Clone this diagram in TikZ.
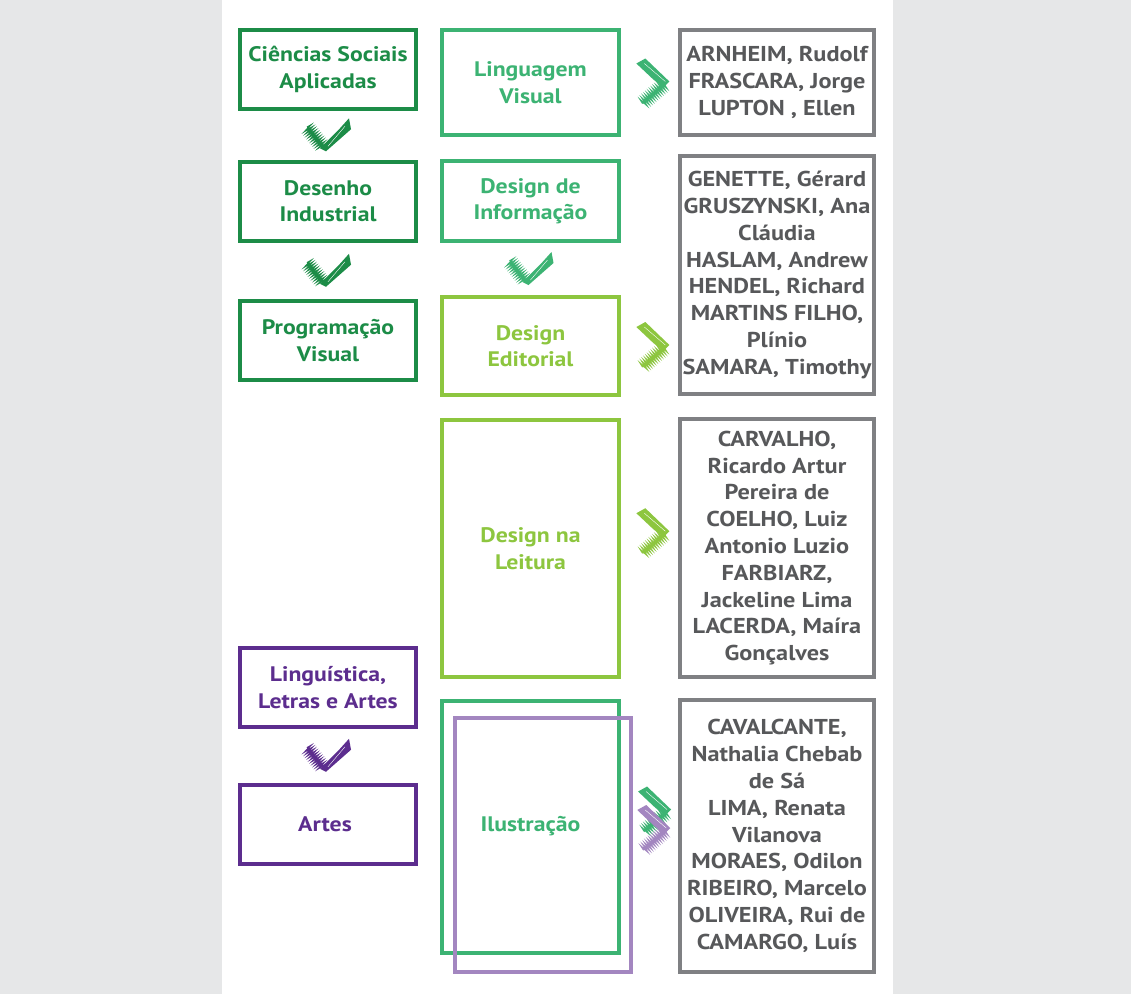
\documentclass[tikz,border=0pt]{standalone}
\usepackage{fontspec}
\setmainfont{PT Sans}[FakeStretch=1.13]
\usetikzlibrary{decorations.pathmorphing}

\definecolor{fundo}{HTML}{E6E7E8}
\definecolor{verdeesc}{HTML}{1C8C47}
\definecolor{verdemed}{HTML}{3CB373}
\definecolor{verdecla}{HTML}{8DC63F}
\definecolor{roxoesc}{HTML}{5C2D8E}
\definecolor{roxocla}{HTML}{A386C0}
\definecolor{cinzalinha}{HTML}{7F8083}
\definecolor{cinzatexto}{HTML}{57585A}

\tikzset{
  caixa/.style={draw=#1, text=#1, line width=4pt, inner sep=0pt, align=center,
    font=\bfseries\fontsize{21}{26.5}\selectfont},
  autores/.style={draw=cinzalinha, text=cinzatexto, line width=4pt, inner sep=0pt,
    align=center, minimum width=194, font=\bfseries\fontsize{21.5}{26.8}\selectfont},
  rabisco/.style={line width=1.3pt, decorate,
    decoration={zigzag, segment length=2.4pt, amplitude=4pt}},
  % seta para baixo (em forma de visto)
  pics/visto/.style={code={
    \fill[#1] (-8,13) -- (12,-7) -- (21,-17) -- (23,-6) -- (-2,16) -- cycle;
    \draw[white, line width=0.4pt] (0,11) -- (17,-9);
    \draw[#1, rabisco] (-21,-8) -- (-5,12);
  }},
  % seta para a direita
  pics/divisa/.style={code={
    \fill[#1] (-16,-19) -- (-7,-24) -- (17,-1) -- (11,5) -- (1,-3) -- cycle;
    \draw[white, line width=0.4pt] (-8,-19) -- (13,-1);
    \draw[#1, rabisco] (12,2) -- (-10,21);
  }}
}

\begin{document}
\begin{tikzpicture}[x=1pt,y=-1pt]
  % fundo
  \fill[fundo] (0,0) rectangle (1131,994);
  \fill[white] (222,0) rectangle (893,994);

  % Coluna 1
  \foreach \nome/\y/\cor/\texto in {
      csa/69.5/verdeesc/{Ciências Sociais\\Aplicadas},
      dind/201/verdeesc/{Desenho\\Industrial},
      pvis/340.5/verdeesc/{Programação\\Visual},
      lla/687.5/roxoesc/{Linguística,\\Letras e Artes},
      artes/824/roxoesc/{Artes}
    } {
    \node[caixa=\cor, minimum width=176, minimum height=79] (\nome) at (328,\y) {\texto};
  }

  % Coluna 2
  \node[caixa=verdemed, minimum width=177, minimum height=105] (lv) at (530.5,82.5) {Linguagem\\Visual};
  \node[caixa=verdemed, minimum width=177, minimum height=80] (dinf) at (530.5,201) {Design de\\Informação};
  \node[caixa=verdecla, minimum width=177, minimum height=98] (ded) at (530.5,346) {Design\\Editorial};
  \node[caixa=verdecla, minimum width=177, minimum height=257] (dl) at (530.5,548.5) {Design na\\Leitura};
  \node[caixa=verdemed, minimum width=177, minimum height=252] (ilv) at (530.5,826.5) {};
  \node[caixa=roxocla, minimum width=176, minimum height=254] (ilr) at (543,845) {};
  \node[text=verdemed, font=\bfseries\fontsize{21}{26.5}\selectfont] (ilt) at (ilv.center) {Ilustração};

  % Coluna 3
  \node[autores, minimum height=105] (r1) at (777,82.5)
    {ARNHEIM, Rudolf\\FRASCARA, Jorge\\LUPTON , Ellen};
  \node[autores, minimum height=238] (r2) at (777,275)
    {GENETTE, Gérard\\GRUSZYNSKI, Ana\\Cláudia\\HASLAM, Andrew\\HENDEL, Richard\\MARTINS FILHO,\\Plínio\\SAMARA, Timothy};
  \node[autores, minimum height=258] (r3) at (777,548)
    {CARVALHO,\\Ricardo Artur\\Pereira de\\COELHO, Luiz\\Antonio Luzio\\FARBIARZ,\\Jackeline Lima\\LACERDA, Maíra\\Gonçalves};
  \node[autores, minimum height=272] (r4) at (777,836)
    {CAVALCANTE,\\Nathalia Chebab\\de Sá\\LIMA, Renata\\Vilanova\\MORAES, Odilon\\RIBEIRO, Marcelo\\OLIVEIRA, Rui de\\CAMARGO, Luís};

  % setas entre caixas
  \path (csa.south) -- (dind.north) coordinate[midway] (v1);
  \path (dind.south) -- (pvis.north) coordinate[midway] (v2);
  \path (dinf.south) -- (ded.north) coordinate[midway] (v3);
  \path (lla.south) -- (artes.north) coordinate[midway] (v4);
  \pic at (v1) {visto=verdeesc};
  \pic at (v2) {visto=verdeesc};
  \pic at (v3) {visto=verdemed};
  \pic at (v4) {visto=roxoesc};

  \path (lv.east) -- (r1.west) coordinate[pos=.55] (d1);
  \path (ded.east) -- (ded.east -| r2.west) coordinate[pos=.55] (d2);
  \path ([yshift=16pt]dl.east) -- ([yshift=16pt]r3.west) coordinate[pos=.55] (d3);
  \path ([yshift=16pt]ilv.east) -- ([yshift=16pt]ilv.east -| r4.west) coordinate[pos=.58] (d4);
  \path ([yshift=16pt]ilr.east) -- ([yshift=16pt]ilr.east -| r4.west) coordinate[pos=.45] (d5);
  \pic at (d1) {divisa=verdemed};
  \pic at (d2) {divisa=verdecla};
  \pic at (d3) {divisa=verdecla};
  \pic at (d4) {divisa=verdemed};
  \pic at (d5) {divisa=roxocla};
\end{tikzpicture}
\end{document}
